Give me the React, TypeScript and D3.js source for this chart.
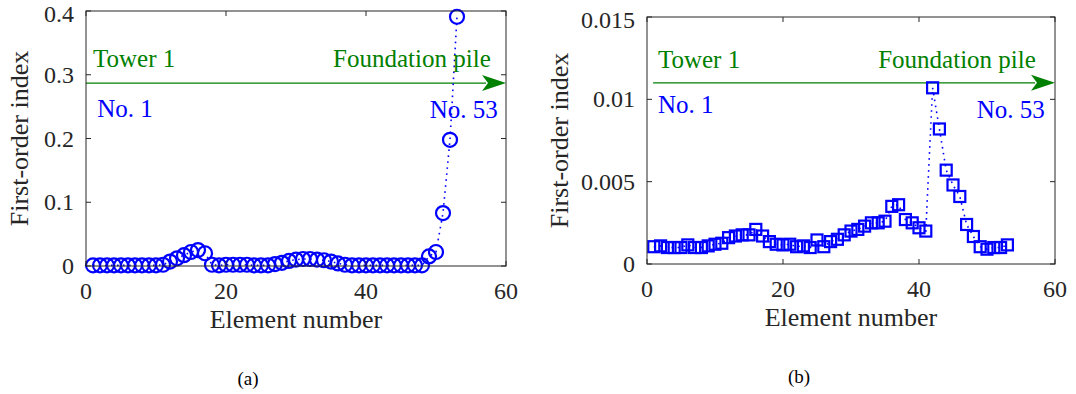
import React from 'react';
import * as d3 from 'd3';

const elements = d3.range(1, 54);

// first-order index, panel (a)
const indexA = [
  0.001, 0.001, 0.001, 0.001, 0.001, 0.001, 0.001, 0.001, 0.001, 0.001,
  0.002, 0.007, 0.012, 0.017, 0.022, 0.025, 0.020, 0.002, 0.001, 0.002,
  0.002, 0.002, 0.002, 0.001, 0.001, 0.001, 0.003, 0.005, 0.008, 0.010,
  0.011, 0.011, 0.010, 0.009, 0.007, 0.004, 0.002, 0.001, 0.001, 0.001,
  0.001, 0.001, 0.001, 0.001, 0.001, 0.001, 0.001, 0.001, 0.015, 0.022,
  0.083, 0.198, 0.391,
];

// first-order index, panel (b)
const indexB = [
  0.00105, 0.0011, 0.001, 0.001, 0.001, 0.00116, 0.001, 0.001, 0.0011, 0.0012,
  0.00126, 0.0016, 0.0017, 0.00177, 0.00177, 0.0021, 0.0017, 0.00136, 0.0012, 0.00116,
  0.0012, 0.00105, 0.0011, 0.001, 0.00146, 0.00105, 0.00136, 0.0015, 0.00177, 0.002,
  0.0021, 0.0023, 0.0025, 0.0025, 0.0026, 0.0035, 0.0036, 0.0027, 0.0025, 0.0022,
  0.002, 0.0107, 0.0082, 0.0057, 0.0048, 0.0041, 0.0024, 0.00167, 0.00105, 0.0009,
  0.001, 0.001, 0.00116,
];

const xTicks = [0, 20, 40, 60];
const yTicksA = [0, 0.1, 0.2, 0.3, 0.4];
const yTicksB = [0, 0.005, 0.01, 0.015];
const yTickLabelsB = ['0', '0.005', '0.01', '0.015'];

const FONT = "'Liberation Serif', 'Times New Roman', 'DejaVu Serif', serif";
const AXIS = '#262626';
const BLUE = '#0000ff';
const GREEN = '#008000';

type Note = { text: string; x: number; y: number; color: string };

type PanelProps = {
  left: number; right: number; top: number; bottom: number;
  yMax: number; yTicks: number[]; yLabels: string[];
  values: number[]; marker: 'circle' | 'square';
  arrowY: number; arrowX0: number;
  notes: Note[]; ylabelX: number; caption: string; captionX: number; captionY: number;
};

function Panel(p: PanelProps) {
  const x = d3.scaleLinear().domain([0, 60]).range([p.left, p.right]);
  const y = d3.scaleLinear().domain([0, p.yMax]).range([p.bottom, p.top]);
  const line = d3.line<number>().x((_, i) => x(elements[i])).y(d => y(d));
  const ay = y(p.arrowY);
  const ax0 = x(p.arrowX0);
  const ax1 = x(60);
  const head = 24;
  const last = p.yTicks.length - 1;
  return (
    <g style={{ fontFamily: FONT }}>
      {/* arrow */}
      <line x1={ax0} x2={ax1 - head + 4} y1={ay} y2={ay} stroke={GREEN} strokeWidth={1.3} />
      <path
        d={`M${ax1},${ay} L${ax1 - head},${ay - 8} L${ax1 - head + 6},${ay} L${ax1 - head},${ay + 8} Z`}
        fill={GREEN}
      />
      {/* series */}
      <path d={line(p.values) || ''} fill="none" stroke={BLUE} strokeWidth={1.6} strokeDasharray="1.6 4.4" />
      {p.values.map((v, i) =>
        p.marker === 'circle' ? (
          <circle key={i} cx={x(elements[i])} cy={y(v)} r={7} fill="none" stroke={BLUE} strokeWidth={2.2} />
        ) : (
          <rect key={i} x={x(elements[i]) - 5.5} y={y(v) - 5.5} width={11} height={11} fill="none" stroke={BLUE} strokeWidth={2.2} />
        )
      )}
      {/* box and ticks */}
      <rect x={p.left} y={p.top} width={p.right - p.left} height={p.bottom - p.top} fill="none" stroke={AXIS} strokeWidth={1} />
      {xTicks.map(t => (
        <g key={'x' + t}>
          <line x1={x(t)} x2={x(t)} y1={p.bottom} y2={p.bottom - 5} stroke={AXIS} />
          <line x1={x(t)} x2={x(t)} y1={p.top} y2={p.top + 5} stroke={AXIS} />
          <text x={x(t)} y={p.bottom + 33} textAnchor="middle" fontSize={24} fill={AXIS}>{t}</text>
        </g>
      ))}
      {p.yTicks.map((t, i) => (
        <g key={'y' + t}>
          <line x1={p.left} x2={p.left + 5} y1={y(t)} y2={y(t)} stroke={AXIS} />
          <line x1={p.right} x2={p.right - 5} y1={y(t)} y2={y(t)} stroke={AXIS} />
          <text x={p.left - 12} y={y(t) + (i === last ? 11 : 8)} textAnchor="end" fontSize={24} fill={AXIS}>{p.yLabels[i]}</text>
        </g>
      ))}
      <text x={(p.left + p.right) / 2} y={p.bottom + 62} textAnchor="middle" fontSize={26} fill={AXIS}>Element number</text>
      <text
        transform={`translate(${p.ylabelX},${(p.top + p.bottom) / 2}) rotate(-90)`}
        textAnchor="middle" fontSize={26} fill={AXIS}
      >First-order index</text>
      {p.notes.map(n => (
        <text key={n.text} x={x(n.x)} y={y(n.y)} fontSize={25} fill={n.color}>{n.text}</text>
      ))}
      <text x={p.captionX} y={p.captionY} textAnchor="middle" fontSize={19} fill="#000">{p.caption}</text>
    </g>
  );
}

export default function App() {
  return (
    <div style={{ position: 'absolute', left: 0, top: 0 }}>
      <svg width={1076} height={394} style={{ display: 'block', background: '#fff' }}>
        <Panel
          left={86} right={506} top={11} bottom={266}
          yMax={0.4} yTicks={yTicksA} yLabels={yTicksA.map(String)}
          values={indexA} marker="circle"
          arrowY={0.287} arrowX0={0}
          notes={[
            { text: 'Tower 1', x: 1, y: 0.312, color: GREEN },
            { text: 'Foundation pile', x: 35.3, y: 0.312, color: GREEN },
            { text: 'No. 1', x: 1.6, y: 0.234, color: BLUE },
            { text: 'No. 53', x: 49.1, y: 0.232, color: BLUE },
          ]}
          ylabelX={28} caption="(a)" captionX={248} captionY={385}
        />
        <Panel
          left={647} right={1055} top={17} bottom={264}
          yMax={0.015} yTicks={yTicksB} yLabels={yTickLabelsB}
          values={indexB} marker="square"
          arrowY={0.011} arrowX0={0.9}
          notes={[
            { text: 'Tower 1', x: 1.6, y: 0.0119, color: GREEN },
            { text: 'Foundation pile', x: 34, y: 0.0119, color: GREEN },
            { text: 'No. 1', x: 1.6, y: 0.00917, color: BLUE },
            { text: 'No. 53', x: 48.5, y: 0.00887, color: BLUE },
          ]}
          ylabelX={568} caption="(b)" captionX={799} captionY={383}
        />
      </svg>
    </div>
  );
}
